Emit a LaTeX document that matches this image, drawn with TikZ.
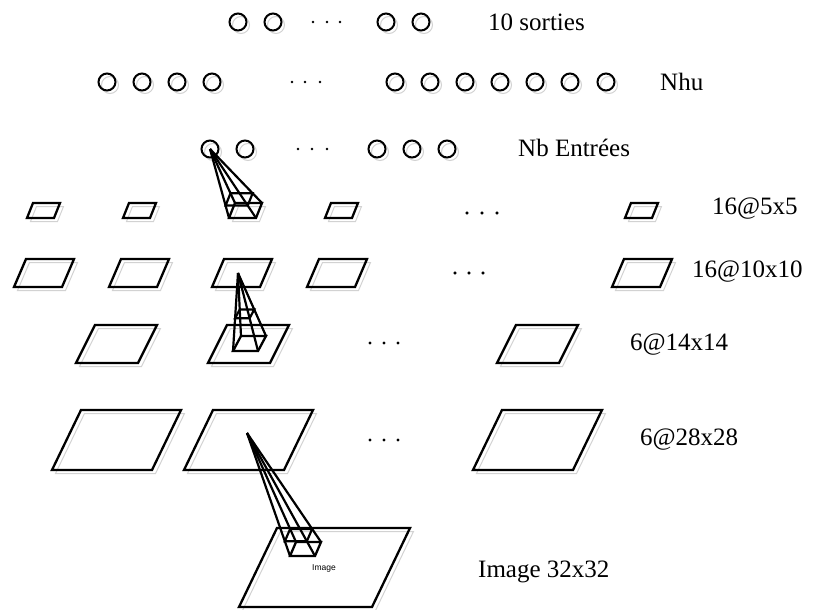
\documentclass[tikz,border=0pt]{standalone}
\usepackage{fontspec}
\setmainfont{Liberation Serif}
\newfontfamily\petitsans{Liberation Sans}
\usetikzlibrary{calc}
\tikzset{
  carte/.style={line width=2.3pt, line join=miter},
  ombre/.style={gray!35, line width=1pt},
  neurone/.style={circle, draw, line width=2pt, minimum size=17pt, inner sep=0pt},
  pyram/.style={line width=2.2pt},
  etiq/.style={font=\fontsize{25}{30}\selectfont, inner sep=0pt, anchor=west},
}
% outline: name, x bottom-left, y bottom, width, height, skew
\newcommand{\quadri}[6]{%
  \draw[carte] (#2,#3) coordinate (#1-bl) -- ++(#4,0) coordinate (#1-br)
    -- ++(#6,-#5) coordinate (#1-tr) -- ++(-#4,0) coordinate (#1-tl) -- cycle;
}
% feature map with its shadow
\newcommand{\carte}[6]{%
  \draw[ombre] (#2+3.5,#3+3.5) -- ++(#4,0) -- ++(#6,-#5) -- ++(-#4,0) -- cycle;
  \quadri{#1}{#2}{#3}{#4}{#5}{#6}
}
% receptive field: apex, base, section
\newcommand{\champ}[3]{%
  \foreach \c in {bl,br,tr,tl} \draw[pyram] (#1) -- (#2-\c);
  \draw[pyram] ($(#2-bl)!#3!(#1)$) -- ($(#2-br)!#3!(#1)$)
    -- ($(#2-tr)!#3!(#1)$) -- ($(#2-tl)!#3!(#1)$) -- cycle;
}
\begin{document}
\begin{tikzpicture}[x=1pt, y=-1pt]
\useasboundingbox (0,0) rectangle (814,610);
%
% neurons
\foreach \x [count=\i] in {238,273,386,421} {
  \draw[ombre] (\x+3,25) circle (8.5);
  \node[neurone] (s\i) at (\x,22) {};
}
\foreach \x [count=\i] in {107,142,177,212,395,430,465,500,535,570,606} {
  \draw[ombre] (\x+3,85) circle (8.5);
  \node[neurone] (h\i) at (\x,82) {};
}
\foreach \x [count=\i] in {210,245,377,412,447} {
  \draw[ombre] (\x+3,152) circle (8.5);
  \node[neurone] (e\i) at (\x,149) {};
}
\foreach \x in {313,327,340} \fill (\x,22) circle (1.4);
\foreach \x in {292,305,320} \fill (\x,82) circle (1.4);
\foreach \x in {298,312,327} \fill (\x,149) circle (1.4);
%
\node[etiq] (lsort) at (488,22) {10 sorties};
\node[etiq] (lnhu) at (660,82) {Nhu};
\node[etiq] (lentr) at (518,148) {Nb Entrées};
%
% 16@5x5
\foreach \x [count=\i] in {27,123,229,325,625} \carte{c\i}{\x}{218}{27}{15}{6}
\foreach \x in {467,482,497} \fill (\x,213) circle (1.4);
\node[etiq] (lc) at (712,209) {16@5x5};
%
% 16@10x10
\foreach \x [count=\i] in {14,109,212,307,612} \carte{d\i}{\x}{287}{48}{28}{12}
\foreach \x in {455,469,483} \fill (\x,273) circle (1.4);
\node[etiq] (ld) at (692,272) {16@10x10};
%
% 6@14x14
\foreach \x [count=\i] in {76,208,497} \carte{f\i}{\x}{363}{62}{38}{19}
\foreach \x in {370,384,398} \fill (\x,343) circle (1.4);
\node[etiq] (lf) at (630,345) {6@14x14};
%
% 6@28x28
\foreach \x [count=\i] in {52,184,473} \carte{g\i}{\x}{470}{100}{60}{29}
\foreach \x in {370,384,398} \fill (\x,440) circle (1.4);
\node[etiq] (lg) at (640,440) {6@28x28};
%
% image
\carte{img}{239}{607}{133}{79}{38}
\node[font=\petitsans\fontsize{8.5}{10}\selectfont, inner sep=0pt] (limg) at (324,568) {Image};
\node[etiq] (limage) at (478,572) {Image 32x32};
%
% receptive fields
\coordinate (pA) at (247,433);
\coordinate (pB) at (238,273);
\quadri{rA}{290}{556}{25}{14}{6}
\quadri{rB}{233}{351}{25}{15}{8}
\champ{pA}{rA}{0.12}
\champ{pB}{rB}{0.42}
\champ{e1.center}{c3}{0.18}
%
\end{tikzpicture}
\end{document}
